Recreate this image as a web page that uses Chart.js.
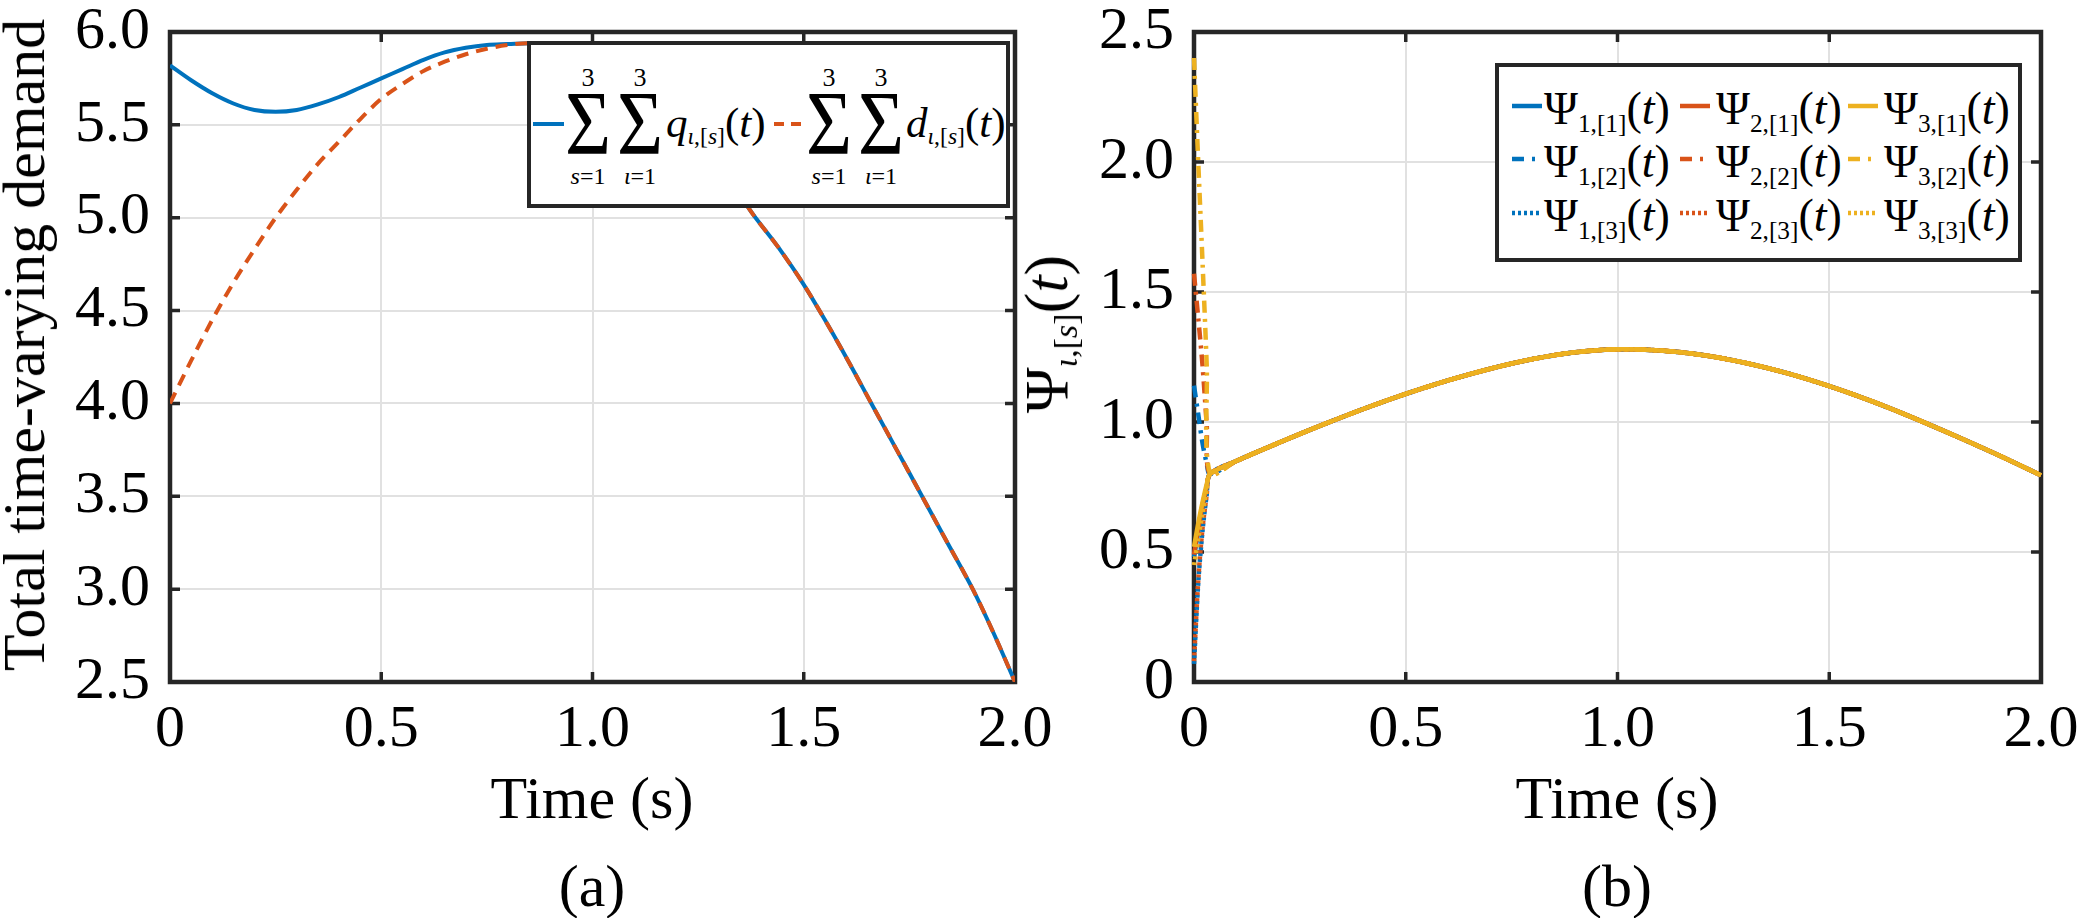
<!DOCTYPE html>
<html>
<head>
<meta charset="utf-8">
<script src="https://cdn.jsdelivr.net/npm/chart.js@4.4.1/dist/chart.umd.min.js"></script>
<style>
  html, body { margin: 0; padding: 0; background: #fff; }
  #page { position: relative; width: 2079px; height: 918px; overflow: hidden; font-family: 'Liberation Serif', 'Times New Roman', serif; color: #000; }
  canvas { position: absolute; }
  .txt { position: absolute; white-space: nowrap; line-height: 1; }
  .legend { position: absolute; box-sizing: border-box; border: 4px solid #262626; background: #fff; z-index: 2; }
  .sub { font-size: 0.55em; position: relative; top: 0.3em; }
  svg { position: absolute; }
</style>
</head>
<body>
<div id="page">
  <canvas id="chartA" width="1090" height="780" style="left:0;top:0;width:1090px;height:780px"></canvas>
  <canvas id="chartB" width="989" height="780" style="left:1090px;top:0;width:989px;height:780px"></canvas>
</div>
<script>
// ---- data (a): total demand ----
const tA = [0, 0.05, 0.1, 0.15, 0.2, 0.25, 0.3, 0.35, 0.4, 0.45, 0.5, 0.55, 0.6, 0.65, 0.7, 0.75, 0.8, 0.85,
  0.9, 1.0, 1.1, 1.2, 1.3, 1.37, 1.44, 1.5, 1.55, 1.6, 1.66, 1.72, 1.78, 1.84, 1.9, 1.95, 2.0];
const qSum = [5.82, 5.74, 5.67, 5.615, 5.58, 5.57, 5.58, 5.61, 5.65, 5.70, 5.75, 5.80, 5.85, 5.89, 5.915, 5.93, 5.935, 5.94,
  5.935, 5.88, 5.76, 5.57, 5.31, 5.05, 4.84, 4.64, 4.45, 4.25, 4.0, 3.75, 3.5, 3.25, 3.0, 2.76, 2.5];
const dSum = [4.0, 4.23, 4.45, 4.65, 4.83, 5.0, 5.15, 5.29, 5.41, 5.53, 5.64, 5.72, 5.79, 5.84, 5.88, 5.91, 5.93, 5.94,
  5.935, 5.88, 5.76, 5.57, 5.31, 5.05, 4.84, 4.64, 4.45, 4.25, 4.0, 3.75, 3.5, 3.25, 3.0, 2.76, 2.5];
const xTicks = [0, 0.5, 1.0, 1.5, 2.0];
const xTickLabels = ['0', '0.5', '1.0', '1.5', '2.0'];
const yTicksA = [2.5, 3.0, 3.5, 4.0, 4.5, 5.0, 5.5, 6.0];
const yTickLabelsA = ['2.5', '3.0', '3.5', '4.0', '4.5', '5.0', '5.5', '6.0'];

// ---- data (b): Psi ----
const tHead = [0, 0.01, 0.02, 0.03, 0.038];
const tTail = [0.1, 0.2, 0.3, 0.4, 0.5, 0.6, 0.7, 0.8, 0.9, 1.0, 1.1, 1.2, 1.3, 1.4, 1.5, 1.6, 1.7, 1.8, 1.9, 2.0];
const psiTail = [0.85, 0.92, 0.987, 1.05, 1.108, 1.16, 1.205, 1.242, 1.268, 1.28, 1.275, 1.258, 1.228, 1.188, 1.138, 1.08, 1.015, 0.945, 0.872, 0.795];
const psi11Head = [0.48, 0.58, 0.67, 0.75, 0.80];
const psi21Head = [0.49, 0.59, 0.68, 0.75, 0.80];
const psi31Head = [0.52, 0.61, 0.69, 0.76, 0.80];
const psi12Head = [1.14, 1.03, 0.92, 0.84, 0.80];
const psi22Head = [1.57, 1.40, 1.22, 0.99, 0.80];
const psi32Head = [2.40, 2.00, 1.62, 1.22, 0.80];
const psi13Head = [0.07, 0.38, 0.58, 0.72, 0.80];
const psi23Head = [0.08, 0.39, 0.59, 0.72, 0.80];
const psi33Head = [0.45, 0.55, 0.65, 0.74, 0.80];
const yTicksB = [0, 0.5, 1.0, 1.5, 2.0, 2.5];
const yTickLabelsB = ['0', '0.5', '1.0', '1.5', '2.0', '2.5'];

const BLUE = '#0072BD', ORANGE = '#D95319', YELLOW = '#EDB120';
const AXIS = '#262626', GRID = '#e1e1e1';
const FONT = "'Liberation Serif', 'Times New Roman', serif";

function pts(ts, ys) { return ts.map((t, i) => ({ x: t, y: ys[i] })); }

// MATLAB-like box with inward ticks on all four sides, drawn under the data
const boxPlugin = {
  id: 'boxPlugin',
  beforeDatasetsDraw(chart) {
    const { ctx, chartArea: a, scales: { x, y } } = chart;
    ctx.save();
    ctx.strokeStyle = AXIS;
    ctx.lineWidth = 3.5;
    ctx.beginPath();
    x.ticks.forEach(t => {
      const px = x.getPixelForValue(t.value);
      ctx.moveTo(px, a.bottom); ctx.lineTo(px, a.bottom - 10);
      ctx.moveTo(px, a.top); ctx.lineTo(px, a.top + 10);
    });
    y.ticks.forEach(t => {
      const py = y.getPixelForValue(t.value);
      ctx.moveTo(a.left, py); ctx.lineTo(a.left + 10, py);
      ctx.moveTo(a.right, py); ctx.lineTo(a.right - 10, py);
    });
    ctx.stroke();
    ctx.lineWidth = 4.5;
    ctx.strokeRect(a.left, a.top, a.right - a.left, a.bottom - a.top);
    ctx.restore();
  }
};

function scales(yMin, yMax, yTicks, yLabels, yWidth, xHeight) {
  return {
    x: {
      type: 'linear', min: 0, max: 2,
      afterBuildTicks: s => { s.ticks = xTicks.map(v => ({ value: v })); },
      afterFit: s => { s.height = xHeight; s.paddingLeft = 0; s.paddingRight = 0; },
      ticks: { callback: (v, i) => xTickLabels[i], font: { family: FONT, size: 60 }, color: '#000', padding: 12, maxRotation: 0, autoSkip: false },
      grid: { color: GRID, lineWidth: 2, drawTicks: false },
      border: { display: false }
    },
    y: {
      type: 'linear', min: yMin, max: yMax,
      afterBuildTicks: s => { s.ticks = yTicks.map(v => ({ value: v })); },
      afterFit: s => { s.width = yWidth; s.paddingTop = 0; s.paddingBottom = 0; },
      ticks: { callback: (v, i) => yLabels[i], font: { family: FONT, size: 60 }, color: '#000', padding: 20, autoSkip: false },
      grid: { color: GRID, lineWidth: 2, drawTicks: false },
      border: { display: false }
    }
  };
}

new Chart(document.getElementById('chartA'), {
  type: 'line',
  data: {
    datasets: [
      { data: pts(tA, dSum), borderColor: ORANGE, borderWidth: 4, borderDash: [12, 8], pointRadius: 0, cubicInterpolationMode: 'monotone', order: 0 },
      { data: pts(tA, qSum), borderColor: BLUE, borderWidth: 4, pointRadius: 0, cubicInterpolationMode: 'monotone', order: 1 }
    ]
  },
  options: {
    responsive: false, devicePixelRatio: 1, animation: false,
    layout: { padding: { top: 32, right: 75, left: 0, bottom: 0 } },
    plugins: { legend: { display: false }, tooltip: { enabled: false } },
    scales: scales(2.5, 6.0, yTicksA, yTickLabelsA, 170, 98)
  },
  plugins: [boxPlugin]
});

const psiHeads = [
  [psi11Head, psi12Head, psi13Head],
  [psi21Head, psi22Head, psi23Head],
  [psi31Head, psi32Head, psi33Head]
];
const psiColors = [BLUE, ORANGE, YELLOW];
const psiDashes = [[], [12, 6, 3, 6], [3, 3]];
const dsB = [];
psiHeads.forEach((row, i) => {
  row.forEach((head, j) => {
    dsB.push({
      data: pts(tHead.concat(tTail), head.concat(psiTail)),
      borderColor: psiColors[i], borderWidth: 4.5, borderDash: psiDashes[j],
      pointRadius: 0, tension: 0.3, clip: 6, order: (2 - i) * 3 + (2 - j)
    });
  });
});

new Chart(document.getElementById('chartB'), {
  type: 'line',
  data: { datasets: dsB },
  options: {
    responsive: false, devicePixelRatio: 1, animation: false,
    layout: { padding: { top: 32, right: 38, left: 0, bottom: 0 } },
    plugins: { legend: { display: false }, tooltip: { enabled: false } },
    scales: scales(0, 2.5, yTicksB, yTickLabelsB, 104, 98)
  },
  plugins: [boxPlugin]
});

// ---- text overlays ----
const page = document.getElementById('page');
function put(parent, html, x, base, size, center, sx) {
  const d = document.createElement('div');
  d.className = 'txt';
  d.innerHTML = html;
  d.style.fontSize = size + 'px';
  d.style.left = x + 'px';
  d.style.top = (base - 0.8375 * size) + 'px';
  if (center) d.style.transform = 'translateX(-50%)' + (sx ? ' scaleX(' + sx + ')' : '');
  parent.appendChild(d);
  return d;
}
function rot(html, cx, cy, size) {
  const d = document.createElement('div');
  d.className = 'txt';
  d.innerHTML = html;
  d.style.fontSize = size + 'px';
  d.style.left = cx + 'px';
  d.style.top = cy + 'px';
  d.style.transform = 'translate(-50%,-50%) rotate(-90deg)';
  page.appendChild(d);
}
function sample(parent, x1, x2, y, color, dash, w) {
  const ns = 'http://www.w3.org/2000/svg';
  const s = document.createElementNS(ns, 'svg');
  s.setAttribute('width', x2 - x1); s.setAttribute('height', 10);
  s.style.left = x1 + 'px'; s.style.top = (y - 5) + 'px';
  const l = document.createElementNS(ns, 'line');
  l.setAttribute('x1', 0); l.setAttribute('x2', x2 - x1);
  l.setAttribute('y1', 5); l.setAttribute('y2', 5);
  l.setAttribute('stroke', color); l.setAttribute('stroke-width', w);
  if (dash) l.setAttribute('stroke-dasharray', dash);
  s.appendChild(l);
  parent.appendChild(s);
}
function box(left, top, right, bottom) {
  const d = document.createElement('div');
  d.className = 'legend';
  d.style.left = left + 'px'; d.style.top = top + 'px';
  d.style.width = (right - left) + 'px'; d.style.height = (bottom - top) + 'px';
  page.appendChild(d);
  return d;
}

// axis labels
rot('Total time-varying demand', 24, 345, 60);
rot('&Psi;<span class="sub"><i>&iota;</i>,[<i>s</i>]</span>(<i>t</i>)', 1046, 334, 62);
put(page, 'Time (s)', 592, 818, 60, true);
put(page, 'Time (s)', 1617, 818, 60, true);
put(page, '(a)', 592, 906, 60, true);
put(page, '(b)', 1617, 906, 60, true);

// legend (a)
const LA = { l: 531, t: 45 };   // inner origin (box + border)
const legA = box(527, 41, 1010, 208);
function sigma(cx, lower) {
  put(legA, '&Sigma;', cx - LA.l, 154 - LA.t, 90, true, 0.88);
  put(legA, '3', cx - LA.l, 87 - LA.t, 26, true);
  put(legA, lower, cx - LA.l, 184 - LA.t, 24, true);
}
sample(legA, 533 - LA.l, 564 - LA.l, 124 - LA.t, BLUE, null, 4);
sigma(588, '<i>s</i>=1');
sigma(640, '<i>&iota;</i>=1');
put(legA, '<i>q</i><span class="sub"><i>&iota;</i>,[<i>s</i>]</span>(<i>t</i>)', 666 - LA.l, 137 - LA.t, 43);
sample(legA, 774 - LA.l, 806 - LA.l, 124 - LA.t, ORANGE, '10 7', 4);
sigma(829, '<i>s</i>=1');
sigma(881, '<i>&iota;</i>=1');
put(legA, '<i>d</i><span class="sub"><i>&iota;</i>,[<i>s</i>]</span>(<i>t</i>)', 906 - LA.l, 137 - LA.t, 43);

// legend (b)
const LB = { l: 1499, t: 67 };
const legB = box(1495, 63, 2022, 262);
const colSample = [1512, 1680, 1848];
const colText = [1544, 1716, 1884];
const rowBase = [125, 178, 232];
const legDash = [null, '12 8 3 9', '3 3'];
for (let j = 0; j < 3; j++) {
  for (let i = 0; i < 3; i++) {
    sample(legB, colSample[i] - LB.l, colSample[i] + 30 - LB.l, rowBase[j] - 19 - LB.t, psiColors[i], legDash[j], 4.5);
    put(legB, '&Psi;<span class="sub">' + (i + 1) + ',[' + (j + 1) + ']</span>(<i>t</i>)',
      colText[i] - LB.l, rowBase[j] - LB.t, 46);
  }
}
</script>
</body>
</html>
